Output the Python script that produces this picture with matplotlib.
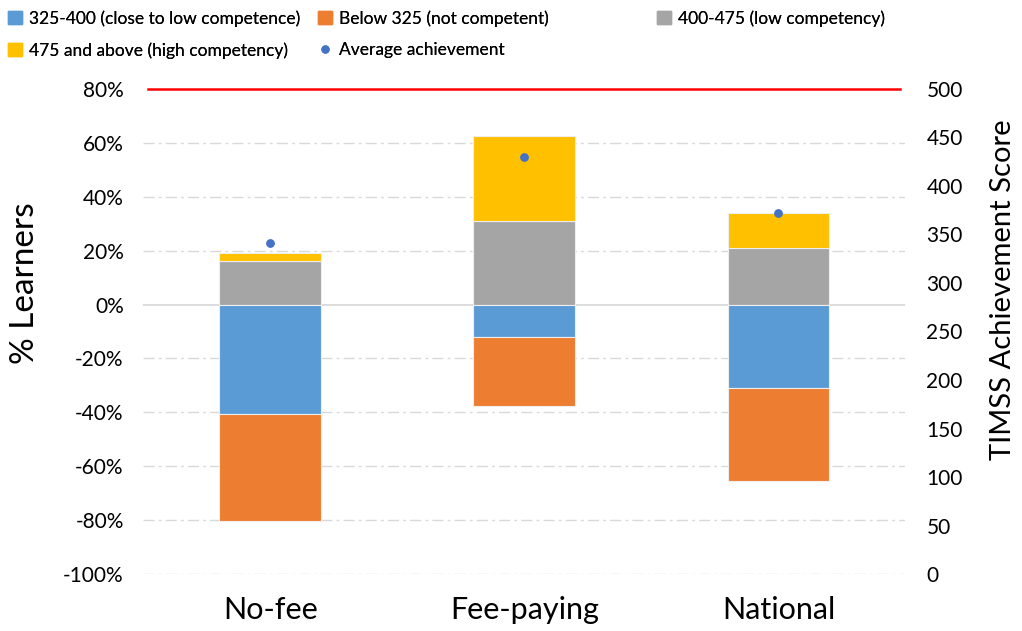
import matplotlib
matplotlib.use("Agg")
import matplotlib.pyplot as plt
import numpy as np
from matplotlib.lines import Line2D
from matplotlib.patches import Patch

plt.rcParams['font.family'] = ['Lato', 'DejaVu Sans']

categories = ["No-fee", "Fee-paying", "National"]
low_comp = [16, 31, 21]             # 400-475 (low competency)
high_comp = [3, 31.5, 13]           # 475 and above
close_low = [-40.5, -12, -31]       # 325-400
below_325 = [-40, -25.5, -34.5]     # Below 325
avg_score = [341, 430, 372]
benchmark = 500

c_blue = "#5B9BD5"
c_orange = "#ED7D31"
c_gray = "#A5A5A5"
c_yellow = "#FFC000"
c_dot = "#4472C4"

W, H = 1022, 631
fig = plt.figure(figsize=(W / 100, H / 100), dpi=100)
ax = fig.add_axes([0.140, 0.0903, 0.746, 0.7687])
x = np.arange(len(categories))
w = 0.4
ekw = dict(edgecolor="#EEEEEE", linewidth=0.8, zorder=3)
ax.bar(x, low_comp, w, color=c_gray, **ekw)
ax.bar(x, high_comp, w, bottom=low_comp, color=c_yellow, **ekw)
ax.bar(x, close_low, w, color=c_blue, **ekw)
ax.bar(x, below_325, w, bottom=close_low, color=c_orange, **ekw)

ax.set_xlim(-0.5, 2.5)
ax.set_ylim(-100, 80)
ax.set_yticks(np.arange(-100, 81, 20))
ax.set_yticklabels([f"{v}%" for v in range(-100, 81, 20)])
ax.set_xticks(x)
ax.set_xticklabels(categories, fontsize=22)
for v in range(-100, 81, 20):
    if v == 0:
        ax.axhline(0, color="#D9D9D9", lw=1.3, zorder=1)
    elif v != 80:
        ax.axhline(v, color="#D9D9D9", lw=1, ls=(0, (8, 3, 2, 3)), zorder=1)
for s in ax.spines.values():
    s.set_visible(False)
ax.tick_params(axis="both", length=0)
ax.tick_params(axis="y", labelsize=15, pad=14)
ax.tick_params(axis="x", pad=16)

ax2 = ax.twinx()
ax2.set_ylim(0, 500)
ax2.set_yticks(np.arange(0, 501, 50))
ax2.tick_params(axis="y", length=0, labelsize=15, pad=15)
for s in ax2.spines.values():
    s.set_visible(False)
ax2.scatter(x, avg_score, s=28, color=c_dot, zorder=5)
ax2.axhline(benchmark, xmin=0.006, xmax=0.993, color="#FF0000", lw=1.8, clip_on=False)

fig.text(25 / W, 1 - 283 / H, "% Learners", fontsize=24, rotation=90,
         ha="center", va="center")
fig.text(1003 / W, 1 - 290 / H, "TIMSS Achievement Score", fontsize=21, rotation=90,
         ha="center", va="center")

lkw = dict(loc="upper left", frameon=False, fontsize=12.5, handlelength=0.8,
           handleheight=0.8, handletextpad=0.4, labelspacing=0.9, borderaxespad=0,
           borderpad=0)
col1 = [Patch(color=c_blue, label="325-400 (close to low competence)"),
        Patch(color=c_yellow, label="475 and above (high competency)")]
col2 = [Patch(color=c_orange, label="Below 325 (not competent)"),
        Line2D([], [], marker="o", ls="", color=c_dot, markersize=5, label="Average achievement")]
col3 = [Patch(color=c_gray, label="400-475 (low competency)")]
for hs, x0 in [(col1, 8), (col2, 318), (col3, 657)]:
    leg = fig.legend(handles=hs, bbox_to_anchor=(x0 / W, 1 - 10 / H), **lkw)
    fig.add_artist(leg)

fig.savefig("out.png", dpi=100)
